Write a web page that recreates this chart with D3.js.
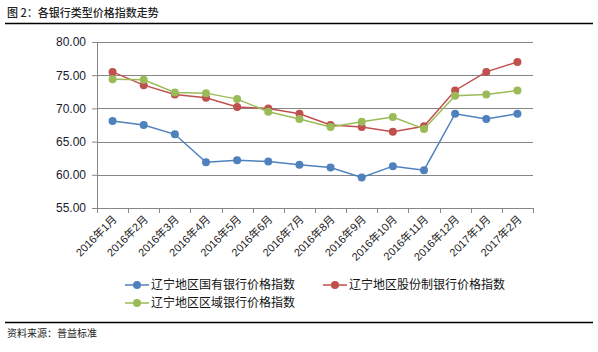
<!DOCTYPE html>
<html>
<head>
<meta charset="utf-8">
<script src="https://cdn.jsdelivr.net/npm/d3@7"></script>
<style>
  body { margin: 0; background: #fff; }
  svg { display: block; font-family: "Liberation Sans", Arial, "Noto Sans CJK SC", sans-serif; }
</style>
</head>
<body>
<div id="chart"></div>
<script>
const months = ["2016年1月","2016年2月","2016年3月","2016年4月","2016年5月","2016年6月","2016年7月",
                "2016年8月","2016年9月","2016年10月","2016年11月","2016年12月","2017年1月","2017年2月"];
const stateOwned = [68.1, 67.5, 66.1, 61.9, 62.2, 62.0, 61.5, 61.1, 59.6, 61.3, 60.7, 69.2, 68.4, 69.2];
const jointStock = [75.5, 73.5, 72.1, 71.6, 70.2, 70.0, 69.2, 67.5, 67.2, 66.5, 67.3, 72.7, 75.5, 77.0];
const regional   = [74.4, 74.3, 72.4, 72.3, 71.4, 69.5, 68.4, 67.2, 68.0, 68.7, 66.9, 71.9, 72.1, 72.7];
const yTicks = [55, 60, 65, 70, 75, 80];

const seriesNames  = ["辽宁地区国有银行价格指数", "辽宁地区股份制银行价格指数", "辽宁地区区域银行价格指数"];
const seriesColors = ["#4F81BD", "#C0504D", "#9BBB59"];
const seriesData   = [stateOwned, jointStock, regional];

const width = 598, height = 352;
const plot = { left: 97, right: 533, top: 42, bottom: 208 };

const svg = d3.select("#chart").append("svg")
    .attr("width", width)
    .attr("height", height);

// title + rules
svg.append("text")
    .attr("x", 7).attr("y", 17)
    .attr("font-size", 11)
    .attr("font-weight", 500)
    .attr("fill", "#222")
    .attr("font-family", "'Noto Sans CJK SC', sans-serif")
    .text("图 2：各银行类型价格指数走势");

svg.append("line")
    .attr("x1", 5).attr("x2", 593)
    .attr("y1", 23.5).attr("y2", 23.5)
    .attr("stroke", "#000").attr("stroke-width", 1.5);

svg.append("line")
    .attr("x1", 5).attr("x2", 593)
    .attr("y1", 322.5).attr("y2", 322.5)
    .attr("stroke", "#000").attr("stroke-width", 1.5);

svg.append("text")
    .attr("x", 7).attr("y", 337)
    .attr("font-size", 10)
    .attr("fill", "#222")
    .attr("font-family", "'Noto Sans CJK SC', sans-serif")
    .text("资料来源：普益标准");

const x = d3.scaleBand()
    .domain(months)
    .range([plot.left, plot.right]);

const y = d3.scaleLinear()
    .domain([55, 80])
    .range([plot.bottom, plot.top]);

// y axis with gridlines
svg.append("g")
    .attr("transform", `translate(${plot.left},0)`)
    .call(d3.axisLeft(y)
        .tickValues(yTicks)
        .tickFormat(d3.format(".2f"))
        .tickSize(5)
        .tickPadding(6))
    .call(g => g.select(".domain").attr("stroke", "#868686"))
    .call(g => g.selectAll(".tick line").attr("stroke", "#868686"))
    .call(g => g.selectAll("text")
        .attr("font-size", 12)
        .attr("fill", "#1a1a2e"));

svg.append("g")
    .selectAll("line")
    .data(yTicks.filter(d => d > 55))
    .join("line")
      .attr("x1", plot.left).attr("x2", plot.right)
      .attr("y1", d => Math.round(y(d)) + 0.5)
      .attr("y2", d => Math.round(y(d)) + 0.5)
      .attr("stroke", "#868686");

// x axis
const xTickPos = months.map(m => x(m)).concat([plot.right]);
svg.append("line")
    .attr("x1", plot.left).attr("x2", plot.right)
    .attr("y1", plot.bottom + 0.5).attr("y2", plot.bottom + 0.5)
    .attr("stroke", "#868686");

svg.append("g")
    .selectAll("line")
    .data(xTickPos)
    .join("line")
      .attr("x1", d => Math.round(d) + 0.5).attr("x2", d => Math.round(d) + 0.5)
      .attr("y1", plot.bottom).attr("y2", plot.bottom + 5)
      .attr("stroke", "#868686");

svg.append("g")
    .selectAll("text")
    .data(months)
    .join("text")
      .attr("transform", d => `translate(${x(d) + x.bandwidth() / 2 + 5},${plot.bottom + 12}) rotate(-45)`)
      .attr("text-anchor", "end")
      .attr("font-size", 11)
      .attr("fill", "#222")
      .text(d => d);

// series
const line = d3.line()
    .x((d, i) => x(months[i]) + x.bandwidth() / 2)
    .y(d => y(d));

seriesData.forEach((vals, si) => {
  const g = svg.append("g");
  g.append("path")
    .datum(vals)
    .attr("d", line)
    .attr("fill", "none")
    .attr("stroke", seriesColors[si])
    .attr("stroke-width", 1.5);
  g.selectAll("circle")
    .data(vals)
    .join("circle")
      .attr("cx", (d, i) => x(months[i]) + x.bandwidth() / 2)
      .attr("cy", d => y(d))
      .attr("r", 4)
      .attr("fill", seriesColors[si]);
});

// legend
const legendPos = [[125, 285], [323, 285], [125, 303]];
seriesNames.forEach((name, i) => {
  const [lx, ly] = legendPos[i];
  const g = svg.append("g").attr("transform", `translate(${lx},${ly})`);
  g.append("line")
    .attr("x1", 0).attr("x2", 24)
    .attr("stroke", seriesColors[i]).attr("stroke-width", 1.5);
  g.append("circle")
    .attr("cx", 12).attr("r", 4)
    .attr("fill", seriesColors[i]);
  g.append("text")
    .attr("x", 26).attr("dy", "0.35em")
    .attr("font-size", 12)
    .attr("fill", "#111")
    .attr("font-family", "'Noto Sans CJK SC', sans-serif")
    .text(name);
});
</script>
</body>
</html>
